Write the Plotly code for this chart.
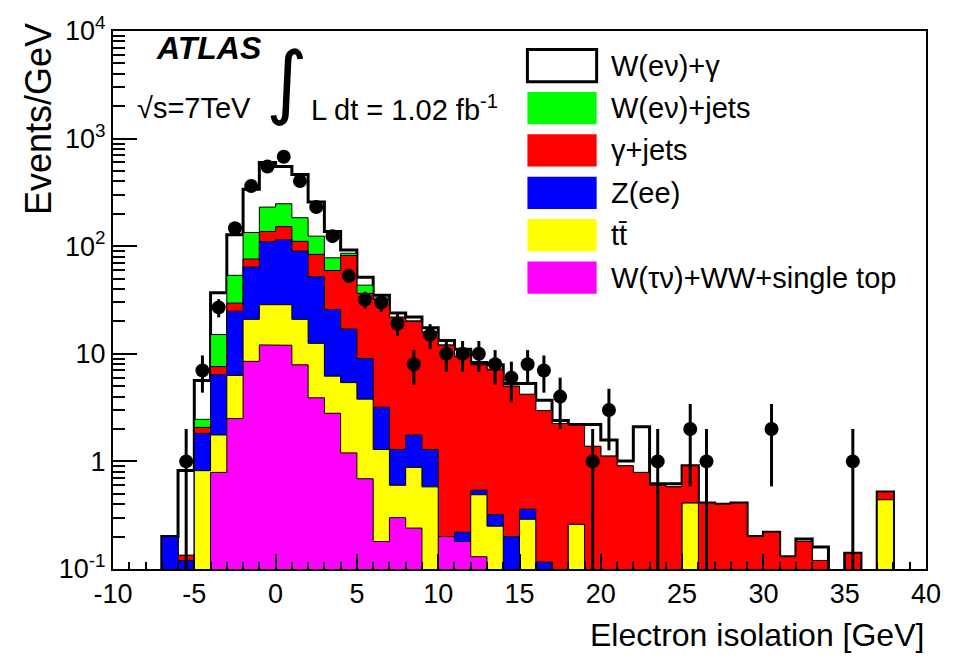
import numpy as np
import plotly.graph_objects as go

# ---- binning: 1 GeV bins from -10 to 40 GeV ----
edges = np.arange(-10, 41, 1)
centers = edges[:-1] + 0.5

# ---- expected contributions, events/GeV per bin (bottom of the stack first) ----
w_taunu_ww_singletop = [
    0, 0, 0, 0, 0, 0, 0.79, 2.5, 8.5, 12.1,
    12.0, 7.9, 3.9, 2.8, 1.2, 0.69, 0.18, 0.30, 0.24, 0,
    0.20, 0.18, 0.13, 0, 0, 0, 0, 0, 0, 0,
    0, 0, 0, 0, 0, 0, 0, 0, 0, 0,
    0, 0, 0, 0, 0, 0, 0, 0, 0, 0]
ttbar = [
    0, 0, 0, 0, 0, 0.82, 0.97, 3.8, 12.4, 16.5,
    16.6, 13.0, 8.6, 3.4, 4.2, 3.1, 1.11, 0.30, 0.64, 0.58,
    0, 0, 0.36, 0.25, 0, 0.29, 0, 0, 0.26, 0,
    0, 0, 0, 0, 0, 0.41, 0, 0, 0, 0,
    0, 0, 0, 0, 0, 0, 0, 0.44, 0, 0]
z_ee = [
    0, 0, 0, 0.2, 0.12, 1.0, 4.64, 18.6, 43.1, 81.4,
    86.4, 69.1, 39.5, 19.6, 11.6, 5.26, 1.9, 0.69, 0.88, 0.71,
    0, 0.04, 0.05, 0.07, 0.2, 0.07, 0.116, 0, 0, 0,
    0, 0, 0, 0, 0, 0, 0, 0, 0, 0,
    0, 0, 0, 0, 0, 0, 0, 0, 0, 0]
gamma_jets = [
    0, 0, 0, 0, 0.014, 0.25, 1.2, 4.7, 12, 27,
    37, 21, 32, 33.6, 65, 27.4, 28.8, 20.3, 18.2, 14.5,
    11.8, 9.2, 7.36, 6.78, 4.8, 3.84, 2.85, 2.25, 1.91, 1.38,
    1.12, 0.91, 0.79, 0.60, 0.58, 0.50, 0.41, 0.40, 0.41, 0.20,
    0.22, 0.13, 0.18, 0.12, 0, 0.14, 0, 0.08, 0, 0]
w_enu_jets = [
    0, 0, 0, 0, 0, 0.39, 7.5, 24, 58, 94,
    96, 73, 40, 18.6, 4, 7, 1, 0.4, 0.3, 0.2,
    0.1, 0.1, 0.1, 0.1, 0, 0, 0, 0, 0, 0,
    0, 0, 0, 0, 0, 0, 0, 0, 0, 0,
    0, 0, 0, 0, 0, 0, 0, 0, 0, 0]
w_enu_gamma = [
    0, 0, 0, 0, 0.69, 3.18, 21.9, 74.4, 205, 369,
    303, 279, 133, 59, 6, 8.1, 2, 2, 1.7, 1.5,
    1.2, 1.5, 0.3, 0.7, 0.3, 1.1, 0.73, 0.15, 0.03, 0.82,
    0.46, 0.10, 1.31, 0.02, 0.04, 0, 0, 0, 0, 0,
    0, 0, 0.01, 0.04, 0, 0, 0, 0, 0, 0]

# ---- observed events per 1 GeV bin ----
data_counts = [
    0, 0, 0, 0, 1, 7, 27, 147, 363, 551,
    679, 403, 231, 124, 53, 32, 30, 19, 8, 15,
    10, 10, 10, 8, 6, 8, 7, 4, 0, 1,
    3, 0, 0, 1, 0, 2, 1, 0, 0, 0,
    2, 0, 0, 0, 0, 1, 0, 0, 0, 0]

sample_names = ["W(eν)+γ", "W(eν)+jets", "γ+jets", "Z(ee)", "tt\u0304",
                "W(τν)+WW+single top"]
sample_colors = ["#FFFFFF", "#00FF00", "#FF0000", "#0000FF", "#FFFF00", "#FF00FF"]

x_tick_values = [-10, -5, 0, 5, 10, 15, 20, 25, 30, 35, 40]
x_tick_labels = ["-10", "-5", "0", "5", "10", "15", "20", "25", "30", "35", "40"]
y_tick_values = [0.1, 1, 10, 100, 1000, 10000]
y_tick_labels = ["10<sup>-1</sup>", "1", "10", "10<sup>2</sup>",
                 "10<sup>3</sup>", "10<sup>4</sup>"]

FONT = "Liberation Sans, Arial, Helvetica, sans-serif"
FLOOR = 1e-3  # below the visible log range; empty bins drop to here

# cumulative stack, bottom (index 0) to top (index 5)
components = np.array([w_taunu_ww_singletop, ttbar, z_ee, gamma_jets,
                       w_enu_jets, w_enu_gamma], dtype=float)
cum = np.cumsum(components, axis=0)
stack_colors = sample_colors[::-1]  # bottom first


def step_polygon(values):
    xs, ys = [edges[0]], [FLOOR]
    for i, v in enumerate(values):
        v = max(v, FLOOR)
        xs += [edges[i], edges[i + 1]]
        ys += [v, v]
    xs.append(edges[-1])
    ys.append(FLOOR)
    return xs, ys


fig = go.Figure()

# draw the stack from the top sum down so lower samples paint over it
for k in range(len(components) - 1, -1, -1):
    xs, ys = step_polygon(cum[k])
    is_top = k == len(components) - 1
    fig.add_trace(go.Scatter(
        x=xs, y=ys, mode="lines", fill="toself",
        fillcolor=stack_colors[k],
        line=dict(color="black", width=3 if is_top else 1),
        hoverinfo="skip", showlegend=False))

# data points with Poisson errors
n = np.array(data_counts, dtype=float)
mask = n > 0
err = np.sqrt(n[mask])
err_lo = np.where(n[mask] - err <= 0, n[mask] - FLOOR, err)
fig.add_trace(go.Scatter(
    x=centers[mask], y=n[mask], mode="markers",
    marker=dict(color="black", size=14, symbol="circle"),
    error_y=dict(type="data", array=err, arrayminus=err_lo,
                 color="black", thickness=3, width=0),
    showlegend=False))

# ---- geometry helpers (plot area 822 x 551 px, left 113, top 18) ----
L, T, W, H = 113, 18, 822, 551


def px(xp):
    return (xp - L) / W


def py(yp):
    return (T + H - yp) / H


# ---- legend drawn as boxes and labels ----
shapes = []
annotations = []
box_x0, box_x1, box_h = 532, 602, 33
for i, (name, col) in enumerate(zip(sample_names, sample_colors)):
    top = 37 + i * 43.4
    shapes.append(dict(
        type="rect", xref="paper", yref="paper",
        x0=px(box_x0), x1=px(box_x1), y0=py(top + box_h), y1=py(top),
        fillcolor=col,
        line=dict(color="black", width=3 if i == 0 else 0)))
    annotations.append(dict(
        text=name, xref="paper", yref="paper",
        x=px(614), y=py(top + box_h / 2), xanchor="left", yanchor="middle",
        showarrow=False, font=dict(family=FONT, size=29, color="black")))

# ---- labels inside the frame ----
annotations += [
    dict(text="<b><i>ATLAS</i></b>", xref="paper", yref="paper",
         x=px(154), y=py(35), xanchor="left", yanchor="middle",
         showarrow=False, font=dict(family=FONT, size=32, color="black")),
    dict(text="√s=7TeV", xref="paper", yref="paper",
         x=px(135), y=py(97), xanchor="left", yanchor="middle",
         showarrow=False, font=dict(family=FONT, size=29, color="black")),
    dict(text="∫", xref="paper", yref="paper",
         x=px(289), y=py(70), xanchor="center", yanchor="middle",
         showarrow=False, font=dict(family="DejaVu Sans", size=80, color="black")),
    dict(text="L dt = 1.02 fb<sup>-1</sup>", xref="paper", yref="paper",
         x=px(311), y=py(97), xanchor="left", yanchor="middle",
         showarrow=False, font=dict(family=FONT, size=29, color="black")),
    # axis titles
    dict(text="Events/GeV", xref="paper", yref="paper", textangle=-90,
         x=px(37), y=py(8), xanchor="center", yanchor="top",
         showarrow=False, font=dict(family=FONT, size=36, color="black")),
    dict(text="Electron isolation [GeV]", xref="paper", yref="paper",
         x=1.0, y=py(637), xanchor="right", yanchor="middle",
         showarrow=False, font=dict(family=FONT, size=32, color="black")),
]

x_common = dict(range=[-10, 40], showgrid=False, zeroline=False,
                ticks="inside", ticklen=15, tickwidth=2, tickcolor="black",
                minor=dict(ticks="inside", ticklen=7, tickwidth=1.5, dtick=1,
                           tickcolor="black", showgrid=False))
y_common = dict(type="log", range=[-1, 4], showgrid=False, zeroline=False,
                ticks="inside", ticklen=24, tickwidth=2, tickcolor="black",
                minor=dict(ticks="inside", ticklen=12, tickwidth=1.5, dtick="D1",
                           tickcolor="black", showgrid=False))

fig.update_layout(
    width=953, height=664,
    margin=dict(l=L, r=953 - L - W, t=T, b=664 - T - H),
    paper_bgcolor="white", plot_bgcolor="white",
    shapes=shapes, annotations=annotations,
    font=dict(family=FONT, color="black"),
    xaxis=dict(
        **x_common, tickmode="array", tickvals=x_tick_values,
        ticktext=x_tick_labels, ticklabeloverflow="allow",
        showline=True, linewidth=2, linecolor="black", mirror=True,
        tickfont=dict(family=FONT, size=27, color="black")),
    yaxis=dict(
        **y_common, tickmode="array", tickvals=y_tick_values,
        ticktext=y_tick_labels, ticklabeloverflow="allow",
        showline=True, linewidth=2, linecolor="black", mirror=True,
        tickfont=dict(family=FONT, size=27, color="black")),
    # tick-only copies of the axes on the top and right edges
    xaxis2=dict(**x_common, tickmode="array", tickvals=x_tick_values,
                overlaying="x", matches="x", side="top", anchor="y",
                showticklabels=False, showline=False),
    yaxis2=dict(**y_common, tickmode="array", tickvals=y_tick_values,
                overlaying="y", matches="y", side="right", anchor="x",
                showticklabels=False, showline=False),
)

fig.write_html("out.html")
